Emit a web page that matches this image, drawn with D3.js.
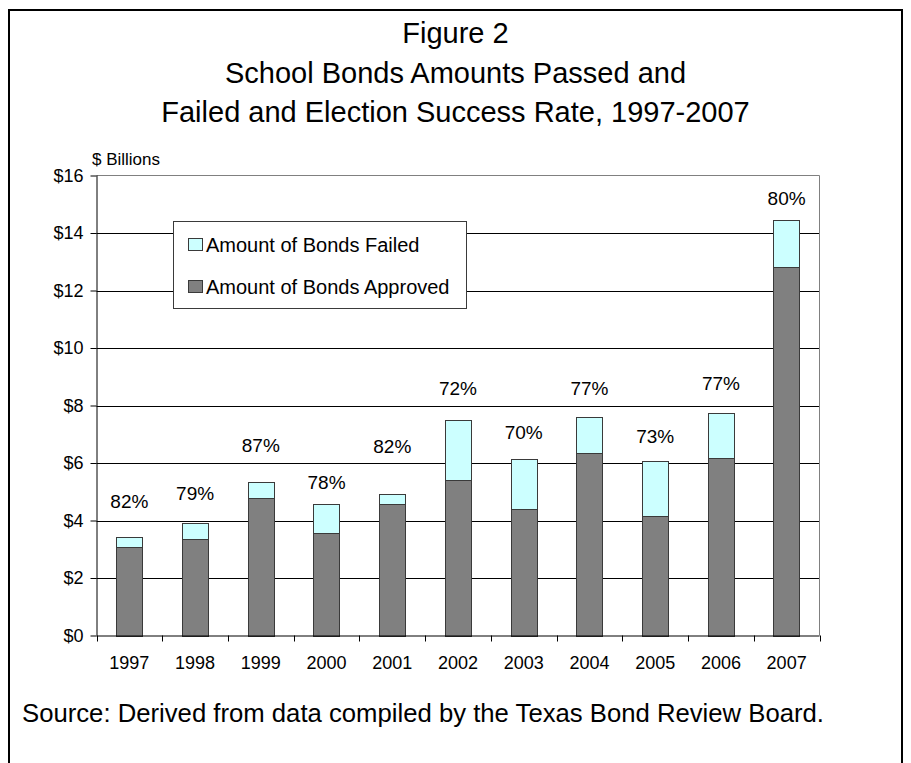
<!DOCTYPE html>
<html>
<head>
<meta charset="utf-8">
<script src="https://cdn.jsdelivr.net/npm/d3@7"></script>
<style>
  body { margin: 0; background: #fff; }
  text { font-family: 'Liberation Sans', Arial, sans-serif; fill: #000; }
</style>
</head>
<body>
<svg id="chart"></svg>
<script>
const years = ['1997', '1998', '1999', '2000', '2001', '2002', '2003', '2004', '2005', '2006', '2007'];
const approved = [3.09, 3.36, 4.77, 3.56, 4.59, 5.41, 4.40, 6.36, 4.16, 6.19, 12.81];
const failed = [0.32, 0.54, 0.56, 1.03, 0.32, 2.09, 1.74, 1.24, 1.92, 1.55, 1.63];
const rates = ['82%', '79%', '87%', '78%', '82%', '72%', '70%', '77%', '73%', '77%', '80%'];
// height (in $ billions) where each success-rate label sits
const rateLabelAt = [4.65, 4.96, 6.60, 5.31, 6.58, 8.60, 7.06, 8.60, 6.92, 8.77, 15.2];
const yTicks = [0, 2, 4, 6, 8, 10, 12, 14, 16];
const titleLines = ['Figure 2', 'School Bonds Amounts Passed and', 'Failed and Election Success Rate, 1997-2007'];
const seriesNames = ['Amount of Bonds Failed', 'Amount of Bonds Approved'];

const W = 911, H = 763;
const plot = {left: 96.5, right: 819.5, top: 175.5, bottom: 635.5};

const svg = d3.select('#chart')
.attr('width', W)
.attr('height', H);

svg.append('rect')
.attr('width', W)
.attr('height', H)
.attr('fill', '#fff');

// outer frame (open at the bottom)
svg.append('rect')
.attr('x', 9)
.attr('y', 10)
.attr('width', 893)
.attr('height', H + 20)
.attr('fill', 'none')
.attr('stroke', '#000')
.attr('stroke-width', 2);

svg.selectAll('.title')
.data(titleLines)
.enter()
.append('text')
.attr('class', 'title')
.attr('x', 455.5)
.attr('y', (d, i) => 43 + i * 39.5)
.attr('text-anchor', 'middle')
.style('font-size', '29px')
.text(d => d);

const x = d3.scaleBand()
.domain(years)
.range([plot.left, plot.right])
.paddingInner(0.6)
.paddingOuter(0.3);

const y = d3.scaleLinear()
.domain([0, 16])
.range([plot.bottom, plot.top]);

// gridlines
svg.selectAll('.grid')
.data(yTicks.filter(d => d > 0 && d < 16))
.enter()
.append('line')
.attr('x1', plot.left)
.attr('x2', plot.right)
.attr('y1', d => Math.round(y(d)) + 0.5)
.attr('y2', d => Math.round(y(d)) + 0.5)
.attr('stroke', '#000')
.attr('stroke-width', 1);

// plot border top / right
svg.append('path')
.attr('d', `M${plot.left},${plot.top}H${plot.right}V${plot.bottom}`)
.attr('fill', 'none')
.attr('stroke', '#808080')
.attr('stroke-width', 1);

const stack = d3.stack().keys(['approved', 'failed'])(
  years.map((yr, i) => ({year: yr, approved: approved[i], failed: failed[i]}))
);
const fills = {approved: '#808080', failed: '#ccffff'};

stack.forEach(layer => {
  svg.append('g')
  .selectAll('rect')
  .data(layer)
  .enter()
  .append('rect')
  .attr('x', d => Math.round(x(d.data.year)) + 0.5)
  .attr('y', d => Math.round(y(d[1])) + 0.5)
  .attr('width', Math.round(x.bandwidth()))
  .attr('height', d => Math.round(y(d[0])) - Math.round(y(d[1])))
  .attr('fill', fills[layer.key])
  .attr('stroke', '#3a3a3a')
  .attr('stroke-width', 1);
});

// y axis
const yAxis = svg.append('g')
.attr('transform', `translate(${plot.left},0)`)
.call(d3.axisLeft(y).tickValues(yTicks).tickSize(6).tickPadding(7).tickFormat(d => '$' + d));
yAxis.selectAll('text').style('font-size', '18px');
yAxis.selectAll('line, path').attr('stroke', '#000');
yAxis.select('.domain').attr('d', `M0.5,${plot.top}V${plot.bottom}`);

// x axis with ticks between categories
const xAxis = svg.append('g')
.attr('transform', `translate(0,${plot.bottom})`);
xAxis.append('line')
.attr('x1', plot.left)
.attr('x2', plot.right)
.attr('y1', 0.5)
.attr('y2', 0.5)
.attr('stroke', '#000');
const step = x.step();
xAxis.selectAll('.tick')
.data(d3.range(years.length + 1))
.enter()
.append('line')
.attr('x1', i => Math.round(plot.left + i * step) + 0.5)
.attr('x2', i => Math.round(plot.left + i * step) + 0.5)
.attr('y1', 0)
.attr('y2', 6)
.attr('stroke', '#000');
xAxis.selectAll('.yr')
.data(years)
.enter()
.append('text')
.attr('x', d => x(d) + x.bandwidth() / 2)
.attr('y', 33)
.attr('text-anchor', 'middle')
.style('font-size', '18px')
.text(d => d);

svg.append('text')
.attr('x', 92)
.attr('y', 165)
.style('font-size', '17px')
.text('$ Billions');

// success rate labels
svg.selectAll('.rate')
.data(rates)
.enter()
.append('text')
.attr('x', (d, i) => x(years[i]) + x.bandwidth() / 2)
.attr('y', (d, i) => y(rateLabelAt[i]))
.attr('dy', '0.35em')
.attr('text-anchor', 'middle')
.style('font-size', '19px')
.text(d => d);

// legend
const legend = svg.append('g');
legend.append('rect')
.attr('x', 173.5)
.attr('y', 221.5)
.attr('width', 293)
.attr('height', 87)
.attr('fill', '#fff')
.attr('stroke', '#3a3a3a');

const legendFills = [fills.failed, fills.approved];
seriesNames.forEach((name, i) => {
  legend.append('rect')
  .attr('x', 188.5)
  .attr('y', 238.5 + i * 42)
  .attr('width', 14)
  .attr('height', 12)
  .attr('fill', legendFills[i])
  .attr('stroke', '#3a3a3a');
  legend.append('text')
  .attr('x', 206)
  .attr('y', 244.5 + i * 42)
  .attr('dy', '0.35em')
  .style('font-size', '20px')
  .text(name);
});

svg.append('text')
.attr('x', 22)
.attr('y', 722)
.style('font-size', '25.7px')
.text('Source: Derived from data compiled by the Texas Bond Review Board.');
</script>
</body>
</html>
